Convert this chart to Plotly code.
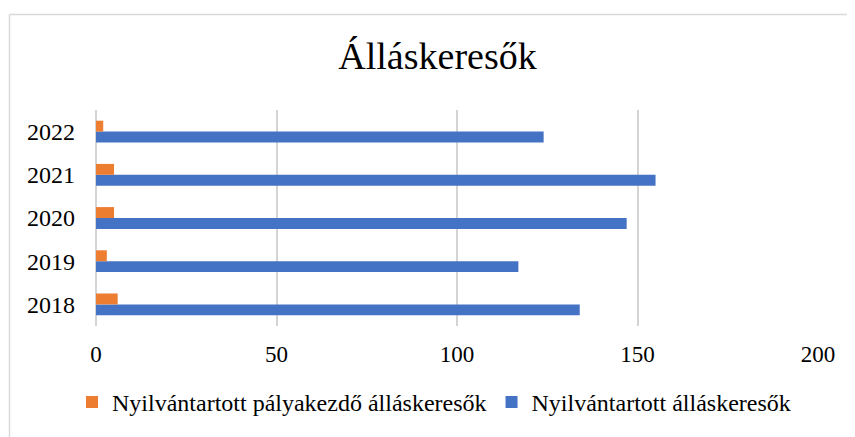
import plotly.graph_objects as go

years = ["2018", "2019", "2020", "2021", "2022"]
total_seekers = [134, 117, 147, 155, 124]
new_entrants = [6, 3, 5, 5, 2]
series_names = ["Nyilvántartott pályakezdő álláskeresők", "Nyilvántartott álláskeresők"]
title_text = "Álláskeresők"
x_ticks = [0, 50, 100, 150, 200]

FONT = "Liberation Serif, Times New Roman, serif"
OFF = 8  # page body margin
W, H = 855 - OFF, 437 - OFF
L, R, T, B = 96 - OFF, 37, 110 - OFF, 109
pw = W - L - R
ph = H - T - B

fig = go.Figure()
fig.add_trace(go.Bar(y=years, x=total_seekers, orientation="h", name=series_names[1],
                     marker=dict(color="#4472C4", line=dict(width=0))))
fig.add_trace(go.Bar(y=years, x=new_entrants, orientation="h", name=series_names[0],
                     marker=dict(color="#ED7D31", line=dict(width=0))))

def px_x(p):
    return (p - OFF - L) / pw

def px_y(p):
    return 1 - (p - OFF - T) / ph

fig.update_layout(
    width=W, height=H,
    margin=dict(l=L, r=R, t=T, b=B),
    paper_bgcolor="white", plot_bgcolor="white",
    font=dict(family=FONT, color="black", size=24),
    barmode="group", bargap=0.495, bargroupgap=0,
    title=dict(text=title_text, x=(437.5 - OFF) / W, xanchor="center", xref="container",
               y=1 - (56 - OFF) / H, yanchor="middle", yref="container",
               font=dict(family=FONT, size=38, color="black")),
    xaxis=dict(range=[0, 200], tickvals=x_ticks, showgrid=True, gridcolor="#d4d4d4",
               gridwidth=1.6, zeroline=True, zerolinecolor="#d4d4d4", zerolinewidth=1.6,
               showline=False, ticks="", ticklabelstandoff=12,
               tickfont=dict(family=FONT, size=23, color="black"), fixedrange=True),
    yaxis=dict(showgrid=False, zeroline=False, showline=False, ticks="",
               ticklabelstandoff=20, tickfont=dict(family=FONT, size=24, color="black")),
    showlegend=True,
    legend=dict(orientation="h", traceorder="reversed", x=px_x(434), xanchor="center",
                y=px_y(405), yanchor="middle", font=dict(family=FONT, size=24, color="black"),
                bgcolor="rgba(0,0,0,0)", itemclick=False),
    shapes=[
        dict(type="line", xref="paper", yref="paper", x0=px_x(9.5), x1=px_x(9.5),
             y0=px_y(13.5), y1=px_y(470), line=dict(color="#d9d9d9", width=1.5)),
        dict(type="line", xref="paper", yref="paper", x0=px_x(9.5), x1=px_x(900),
             y0=px_y(13.5), y1=px_y(13.5), line=dict(color="#d9d9d9", width=1.5)),
    ],
)

fig.write_html("out.html")
